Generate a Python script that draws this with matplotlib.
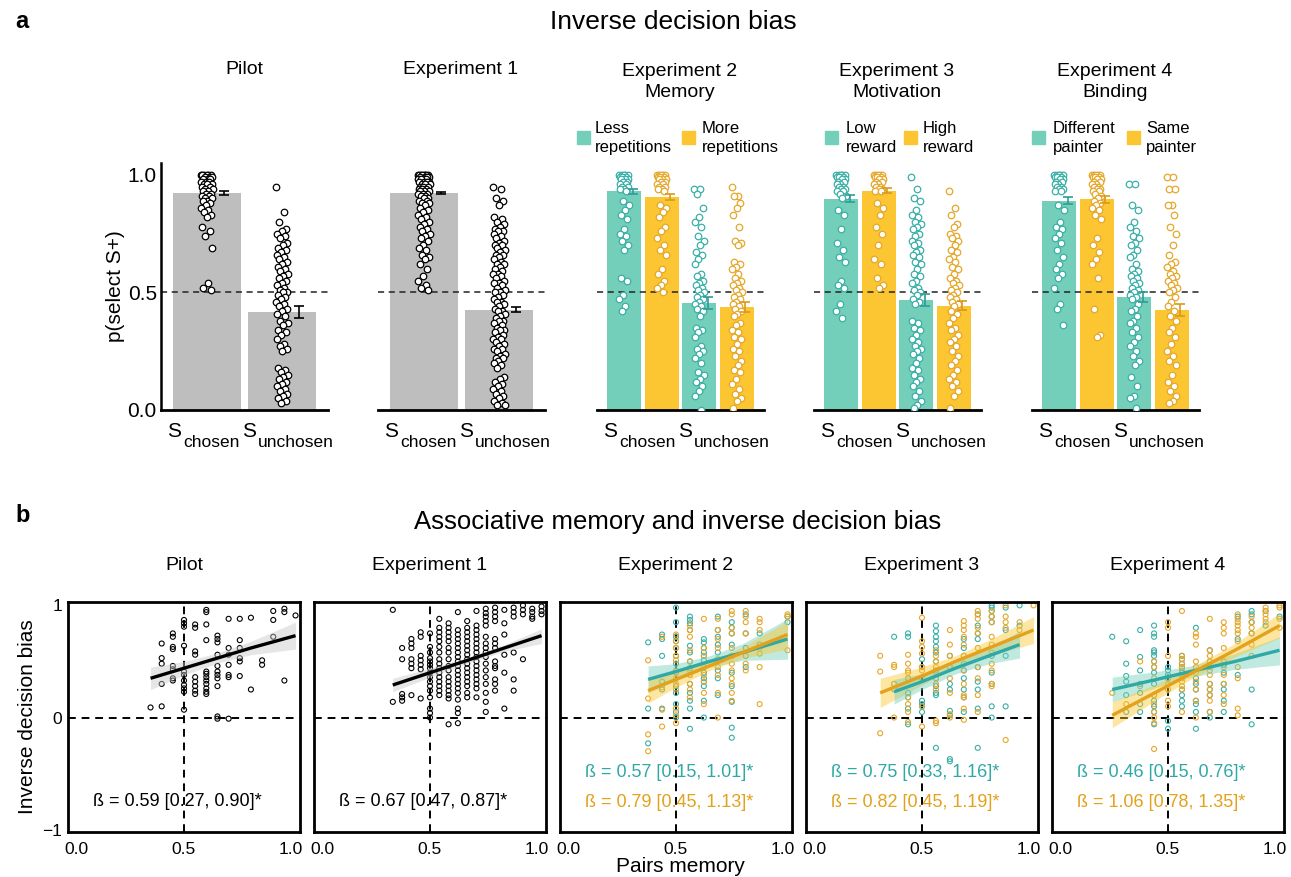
import numpy as np
import matplotlib.pyplot as plt
from matplotlib import transforms
from matplotlib.patches import Rectangle

plt.rcParams["font.family"] = ["Liberation Sans", "DejaVu Sans"]

W, H = 1291, 877

GREY = "#bebebe"
TEAL_BAR = "#74cfba"
YEL_BAR = "#fbc631"
TEAL_PT = "#3aafa8"
YEL_PT = "#e6a72a"
TEAL_ERR = "#2f9c96"
YEL_ERR = "#d99a1c"
TEAL_LN = "#2fa9a5"
ORG_LN = "#e3a11c"

# ---------------- panel a: bar means / sem ----------------
pilot_means = [0.923, 0.417]
pilot_errs = [0.007, 0.025]
exp1_means = [0.922, 0.426]
exp1_errs = [0.005, 0.010]
exp2_means = [0.929, 0.906, 0.455, 0.438]
exp2_errs = [0.010, 0.012, 0.025, 0.020]
exp3_means = [0.898, 0.933, 0.469, 0.443]
exp3_errs = [0.015, 0.010, 0.025, 0.020]
exp4_means = [0.890, 0.895, 0.480, 0.426]
exp4_errs = [0.015, 0.015, 0.020, 0.025]

# participant values, panel a
pilot_chosen = [1.0, 1.0, 1.0, 1.0, 1.0, 1.0, 0.99, 0.99, 0.99, 0.98, 0.98, 0.98, 0.97, 0.97,
                0.97, 0.96, 0.96, 0.96, 0.95, 0.95, 0.94, 0.94, 0.93, 0.93, 0.92, 0.92, 0.91,
                0.91, 0.90, 0.90, 0.89, 0.89, 0.88, 0.87, 0.86, 0.85, 0.84, 0.83, 0.82, 0.78,
                0.76, 0.74, 0.69, 0.54, 0.52, 0.51]
pilot_unchosen = [0.95, 0.84, 0.80, 0.77, 0.76, 0.75, 0.74, 0.73, 0.71, 0.70, 0.69, 0.68, 0.67,
                  0.66, 0.65, 0.64, 0.63, 0.62, 0.61, 0.60, 0.59, 0.58, 0.57, 0.56, 0.55, 0.54,
                  0.53, 0.52, 0.51, 0.50, 0.50, 0.49, 0.48, 0.47, 0.46, 0.45, 0.44, 0.43, 0.42,
                  0.41, 0.40, 0.38, 0.37, 0.36, 0.34, 0.33, 0.32, 0.30, 0.28, 0.27, 0.26, 0.25,
                  0.18, 0.17, 0.16, 0.15, 0.14, 0.13, 0.12, 0.11, 0.10, 0.09, 0.08, 0.07, 0.06,
                  0.05, 0.04, 0.03]
exp1_chosen = [1.0, 1.0, 1.0, 1.0, 1.0, 1.0, 1.0, 1.0, 0.99, 0.99, 0.99, 0.99, 0.98, 0.98, 0.98,
               0.98, 0.97, 0.97, 0.97, 0.97, 0.96, 0.96, 0.96, 0.95, 0.95, 0.95, 0.94, 0.94, 0.94,
               0.93, 0.93, 0.93, 0.92, 0.92, 0.92, 0.91, 0.91, 0.90, 0.90, 0.89, 0.89, 0.88, 0.88,
               0.87, 0.86, 0.85, 0.84, 0.83, 0.82, 0.81, 0.80, 0.79, 0.78, 0.77, 0.76, 0.75, 0.74,
               0.73, 0.72, 0.70, 0.69, 0.68, 0.66, 0.65, 0.64, 0.62, 0.60, 0.57, 0.55, 0.53, 0.52,
               0.51]
exp1_unchosen = [0.95, 0.94, 0.90, 0.89, 0.87, 0.82, 0.81, 0.80, 0.79, 0.78, 0.77, 0.76, 0.76,
                 0.75, 0.74, 0.73, 0.72, 0.71, 0.70, 0.70, 0.69, 0.68, 0.67, 0.66, 0.66, 0.65,
                 0.64, 0.63, 0.62, 0.62, 0.61, 0.60, 0.59, 0.58, 0.58, 0.57, 0.56, 0.55, 0.54,
                 0.54, 0.53, 0.52, 0.51, 0.50, 0.50, 0.49, 0.48, 0.47, 0.46, 0.46, 0.45, 0.44,
                 0.43, 0.42, 0.42, 0.41, 0.40, 0.39, 0.38, 0.38, 0.37, 0.36, 0.35, 0.34, 0.34,
                 0.33, 0.32, 0.31, 0.30, 0.30, 0.29, 0.28, 0.27, 0.26, 0.26, 0.25, 0.24, 0.23,
                 0.22, 0.22, 0.21, 0.20, 0.19, 0.18, 0.14, 0.13, 0.12, 0.11, 0.10, 0.09, 0.08,
                 0.07, 0.06, 0.05, 0.04, 0.03, 0.02, 0.02]
exp2_less_ch = [1.0, 1.0, 1.0, 1.0, 1.0, 0.99, 0.99, 0.99, 0.98, 0.98, 0.98, 0.97, 0.97, 0.96,
                0.96, 0.95, 0.95, 0.94, 0.94, 0.93, 0.89, 0.87, 0.85, 0.83, 0.81, 0.77, 0.75,
                0.74, 0.72, 0.70, 0.68, 0.56, 0.55, 0.49, 0.47, 0.44, 0.42]
exp2_more_ch = [1.0, 1.0, 1.0, 1.0, 1.0, 0.99, 0.99, 0.99, 0.98, 0.98, 0.98, 0.97, 0.97, 0.96,
                0.96, 0.95, 0.95, 0.94, 0.94, 0.93, 0.87, 0.86, 0.84, 0.82, 0.78, 0.76, 0.73,
                0.70, 0.68, 0.66, 0.60, 0.58, 0.55, 0.53, 0.52, 0.50]
exp2_less_un = [0.94, 0.94, 0.92, 0.86, 0.82, 0.80, 0.78, 0.74, 0.72, 0.70, 0.67, 0.66, 0.64,
                0.62, 0.58, 0.57, 0.55, 0.54, 0.53, 0.52, 0.51, 0.50, 0.49, 0.48, 0.47, 0.46,
                0.45, 0.44, 0.43, 0.42, 0.40, 0.35, 0.34, 0.33, 0.31, 0.27, 0.26, 0.25, 0.24,
                0.22, 0.20, 0.16, 0.15, 0.13, 0.12, 0.10, 0.08, 0.06, 0.0]
exp2_more_un = [0.95, 0.91, 0.91, 0.88, 0.86, 0.83, 0.78, 0.72, 0.71, 0.70, 0.63, 0.62, 0.61,
                0.60, 0.58, 0.56, 0.55, 0.54, 0.53, 0.52, 0.51, 0.50, 0.49, 0.48, 0.47, 0.46,
                0.45, 0.44, 0.43, 0.42, 0.41, 0.40, 0.37, 0.36, 0.34, 0.33, 0.31, 0.30, 0.28,
                0.26, 0.25, 0.23, 0.21, 0.19, 0.17, 0.16, 0.13, 0.11, 0.09, 0.07, 0.05, 0.04,
                0.01]
exp3_low_ch = [1.0, 1.0, 1.0, 1.0, 1.0, 0.99, 0.99, 0.99, 0.98, 0.98, 0.97, 0.97, 0.96, 0.96,
               0.95, 0.95, 0.94, 0.94, 0.93, 0.93, 0.92, 0.91, 0.90, 0.85, 0.83, 0.77, 0.71,
               0.68, 0.65, 0.63, 0.55, 0.53, 0.52, 0.45, 0.42, 0.39]
exp3_high_ch = [1.0, 1.0, 1.0, 1.0, 1.0, 0.99, 0.99, 0.99, 0.98, 0.98, 0.97, 0.97, 0.96, 0.96,
                0.95, 0.95, 0.94, 0.94, 0.93, 0.93, 0.88, 0.86, 0.83, 0.78, 0.75, 0.70, 0.64,
                0.62, 0.56, 0.53, 0.52]
exp3_low_un = [0.99, 0.94, 0.90, 0.89, 0.85, 0.83, 0.82, 0.80, 0.79, 0.78, 0.77, 0.75, 0.74,
               0.72, 0.71, 0.70, 0.68, 0.67, 0.66, 0.65, 0.63, 0.62, 0.60, 0.58, 0.57, 0.55,
               0.54, 0.52, 0.51, 0.50, 0.49, 0.47, 0.46, 0.45, 0.38, 0.37, 0.35, 0.34, 0.32,
               0.30, 0.29, 0.27, 0.26, 0.25, 0.24, 0.22, 0.20, 0.18, 0.17, 0.15, 0.13, 0.12,
               0.10, 0.08, 0.06, 0.04, 0.02, 0.01]
exp3_high_un = [0.93, 0.86, 0.83, 0.79, 0.78, 0.75, 0.74, 0.73, 0.72, 0.70, 0.68, 0.67, 0.65,
                0.64, 0.63, 0.61, 0.60, 0.58, 0.56, 0.55, 0.54, 0.53, 0.52, 0.51, 0.50, 0.49,
                0.48, 0.47, 0.46, 0.45, 0.44, 0.42, 0.41, 0.39, 0.37, 0.35, 0.34, 0.32, 0.30,
                0.29, 0.27, 0.25, 0.23, 0.21, 0.19, 0.17, 0.15, 0.13, 0.12, 0.10, 0.08, 0.06,
                0.01]
exp4_diff_ch = [1.0, 1.0, 1.0, 1.0, 1.0, 0.99, 0.99, 0.99, 0.98, 0.98, 0.97, 0.97, 0.96, 0.96,
                0.95, 0.95, 0.94, 0.94, 0.93, 0.93, 0.87, 0.85, 0.80, 0.78, 0.77, 0.75, 0.73,
                0.71, 0.68, 0.65, 0.62, 0.60, 0.58, 0.56, 0.52, 0.45, 0.43, 0.36]
exp4_same_ch = [1.0, 1.0, 1.0, 1.0, 1.0, 0.99, 0.99, 0.99, 0.98, 0.98, 0.97, 0.97, 0.96, 0.96,
                0.95, 0.95, 0.94, 0.94, 0.93, 0.93, 0.92, 0.91, 0.90, 0.89, 0.88, 0.87, 0.86,
                0.85, 0.83, 0.81, 0.73, 0.70, 0.67, 0.64, 0.62, 0.56, 0.43, 0.32, 0.31]
exp4_diff_un = [0.96, 0.96, 0.87, 0.85, 0.80, 0.78, 0.76, 0.74, 0.73, 0.71, 0.70, 0.68, 0.66,
                0.65, 0.62, 0.60, 0.59, 0.58, 0.57, 0.56, 0.55, 0.54, 0.53, 0.52, 0.51, 0.50,
                0.49, 0.48, 0.47, 0.45, 0.43, 0.42, 0.40, 0.38, 0.37, 0.35, 0.33, 0.31, 0.29,
                0.27, 0.25, 0.23, 0.21, 0.19, 0.14, 0.10, 0.06, 0.05, 0.01]
exp4_same_un = [0.99, 0.99, 0.94, 0.94, 0.87, 0.87, 0.83, 0.78, 0.75, 0.70, 0.66, 0.63, 0.62,
                0.61, 0.59, 0.58, 0.57, 0.56, 0.55, 0.54, 0.53, 0.52, 0.51, 0.50, 0.48, 0.46,
                0.44, 0.42, 0.40, 0.38, 0.35, 0.33, 0.31, 0.28, 0.25, 0.23, 0.21, 0.19, 0.15,
                0.12, 0.10, 0.08, 0.06, 0.04, 0.03]

a_titles = ["Pilot", "Experiment 1", "Experiment 2\nMemory", "Experiment 3\nMotivation",
            "Experiment 4\nBinding"]
legend_labels = [("Less\nrepetitions", "More\nrepetitions"),
                 ("Low\nreward", "High\nreward"),
                 ("Different\npainter", "Same\npainter")]

# ---------------- panel b: pairs memory vs inverse bias ----------------
# keys = number of correct pairs, divided by the number of pairs tested
pilot_n = 20
pilot_pts = {7: [0.09], 8: [0.66, 0.53, 0.48, 0.30, 0.10],
             9: [0.75, 0.72, 0.63, 0.61, 0.46, 0.43, 0.35, 0.33],
             10: [0.87, 0.84, 0.81, 0.64, 0.41, 0.38, 0.33, 0.29, 0.26, 0.23, 0.07],
             11: [0.83, 0.80, 0.59, 0.56, 0.36, 0.32, 0.28, 0.24, 0.21],
             12: [0.96, 0.94, 0.83, 0.69, 0.41, 0.39, 0.36, 0.33, 0.30, 0.26, 0.23, 0.21],
             13: [0.73, 0.70, 0.67, 0.56, 0.46, 0.41, 0.38, 0.35, 0.28, 0.01, -0.01],
             14: [0.88, 0.62, 0.56, 0.47, 0.38, 0.36, -0.01],
             15: [0.88, 0.69, 0.62, 0.53, 0.50, 0.37], 16: [0.89, 0.25], 17: [0.51, 0.47],
             18: [0.95, 0.87, 0.72], 19: [0.97, 0.94, 0.33], 20: [0.91]}
exp1_n = 24
exp1_pts = {8: [0.96, 0.14], 9: [0.62, 0.52, 0.21, 0.18, 0.15],
            10: [0.70, 0.66, 0.62, 0.52, 0.48, 0.44, 0.20],
            11: [0.76, 0.72, 0.55, 0.51, 0.47, 0.43, 0.17],
            12: [0.75, 0.63, 0.58, 0.53, 0.50, 0.47, 0.44, 0.40, 0.36, 0.32, 0.28, 0.24, 0.18,
                 0.08, 0.04, 0.0],
            13: [0.88, 0.80, 0.76, 0.72, 0.68, 0.63, 0.58, 0.52, 0.48, 0.44, 0.40, 0.36, 0.32,
                 0.28, 0.24, 0.20],
            14: [0.84, 0.80, 0.76, 0.72, 0.68, 0.62, 0.58, 0.52, 0.46, 0.42, 0.36, 0.32, 0.28,
                 0.24, 0.20, 0.17, -0.06],
            15: [0.94, 0.78, 0.74, 0.70, 0.66, 0.62, 0.58, 0.54, 0.50, 0.46, 0.42, 0.38, 0.34,
                 0.30, 0.26, 0.22, 0.16, 0.08, 0.04, -0.05],
            16: [0.86, 0.80, 0.76, 0.72, 0.68, 0.64, 0.60, 0.56, 0.52, 0.48, 0.44, 0.40, 0.36,
                 0.32, 0.28, 0.22, 0.18],
            17: [0.95, 0.82, 0.78, 0.74, 0.70, 0.66, 0.62, 0.58, 0.54, 0.50, 0.46, 0.42, 0.38,
                 0.34, 0.30, 0.26, 0.18],
            18: [0.97, 0.93, 0.90, 0.86, 0.82, 0.72, 0.66, 0.62, 0.58, 0.54, 0.48, 0.42, 0.36,
                 0.30, 0.22, 0.14, 0.05],
            19: [0.98, 0.94, 0.90, 0.86, 0.70, 0.66, 0.62, 0.50, 0.46, 0.44, 0.34, 0.30, 0.24],
            20: [0.96, 0.84, 0.74, 0.56, 0.40, 0.08], 21: [0.98, 0.94, 0.90, 0.58, 0.34, 0.24],
            22: [1.0, 0.96, 0.92, 0.52], 23: [0.97, 0.94, 0.90, 0.88], 24: [0.99, 0.95, 0.92]}
exp_n = 16
exp2_teal = {6: [0.67, 0.08, -0.23], 7: [0.74, 0.70, 0.55, 0.32, 0.25, 0.08],
             8: [0.98, 0.85, 0.72, 0.68, 0.62, 0.55, 0.48, 0.40, 0.28, 0.22, 0.12, 0.05, 0.0],
             9: [0.90, 0.87, 0.84, 0.78, 0.64, 0.58, 0.50, 0.44, 0.38, 0.30, 0.22, 0.15, 0.08,
                 -0.10],
             10: [0.70, 0.67, 0.62, 0.58, 0.55, 0.51, 0.45, 0.40, 0.35, 0.32, 0.28, 0.15, 0.0],
             11: [0.90, 0.78, 0.72, 0.65, 0.58, 0.42, 0.35, 0.20],
             12: [0.85, 0.80, 0.75, 0.65, 0.55, 0.40, 0.28, 0.14, -0.09, -0.18],
             13: [0.92, 0.75, 0.62, 0.55, 0.45], 14: [0.75, 0.65], 16: [0.90, 0.85]}
exp2_orange = {6: [0.51, 0.17, -0.15, -0.30], 7: [0.72, 0.27, 0.07, -0.08],
               8: [0.74, 0.68, 0.62, 0.55, 0.51, 0.42, 0.35, 0.30, 0.25, 0.08, 0.02, -0.05],
               9: [0.82, 0.78, 0.72, 0.60, 0.50, 0.42, 0.38, 0.30, 0.25, 0.18],
               10: [0.88, 0.62, 0.55, 0.45, 0.38, 0.32, 0.22, 0.12],
               11: [0.88, 0.78, 0.70, 0.62, 0.52, 0.45, 0.38, 0.22, 0.0],
               12: [0.95, 0.92, 0.80, 0.75, 0.62, 0.55, 0.48, 0.42, 0.35, 0.30, 0.22, 0.15],
               13: [0.95, 0.90, 0.85, 0.75, 0.48, 0.42],
               14: [0.88, 0.85, 0.78, 0.62, 0.57, 0.45, 0.12], 16: [0.92, 0.90, 0.60]}
exp3_teal = {6: [0.72, 0.30, 0.25], 7: [0.75, 0.72, 0.35, 0.22, 0.18, 0.08, -0.06],
             8: [0.52, 0.45, 0.35, 0.15, 0.12, 0.10, 0.05],
             9: [0.82, 0.77, 0.72, 0.68, 0.63, 0.58, 0.50, 0.42, 0.35, 0.28, 0.22, 0.20, -0.27],
             10: [0.55, 0.45, 0.30, 0.25, 0.06, 0.02, -0.37, -0.39],
             11: [0.70, 0.62, 0.55, 0.48, 0.42, 0.35, 0.25, 0.18, 0.05],
             12: [0.92, 0.82, 0.75, 0.70, 0.45, 0.32, 0.25, 0.08, -0.27],
             13: [1.0, 0.98, 0.95, 0.90, 0.85, 0.55, 0.40, 0.30, 0.10, 0.0],
             14: [0.98, 0.78, 0.55, 0.10], 15: [1.0, 0.82]}
exp3_orange = {5: [0.55, 0.41, -0.14], 6: [0.47, 0.45, 0.30, 0.0],
               7: [0.56, 0.48, 0.42, 0.40, 0.35, 0.18, 0.12, 0.05, -0.04],
               8: [0.89, 0.68, 0.63, 0.57, 0.45, 0.42, 0.35, 0.10, -0.08],
               9: [0.60, 0.55, 0.50, 0.45, 0.40, 0.35, 0.30, 0.25, -0.03, -0.05],
               10: [0.78, 0.65, 0.55, 0.45, 0.35, 0.22, 0.03, 0.0],
               11: [0.86, 0.82, 0.78, 0.72, 0.65, 0.55, 0.42, 0.30, 0.20, 0.18, 0.08, -0.02],
               12: [0.95, 0.92, 0.88, 0.80, 0.75, 0.62, 0.45, 0.35, 0.20, 0.05],
               13: [0.95, 0.90, 0.85, 0.72, 0.65, 0.58, 0.48, 0.42, 0.30, 0.28],
               14: [1.0, 0.90, 0.85, 0.80, -0.20], 15: [0.85, 0.78], 16: [1.0]}
exp4_teal = {4: [0.72], 5: [0.68, 0.48, 0.37, 0.32, 0.20, 0.05],
             6: [0.78, 0.54, 0.42, 0.30, 0.22, 0.12, 0.05],
             7: [0.82, 0.75, 0.72, 0.60, 0.58, 0.55, 0.50, 0.45, 0.40, 0.30, 0.20, 0.15, 0.10,
                 0.05, -0.06],
             8: [0.45, 0.42, 0.38, 0.35, -0.03, -0.10],
             9: [0.55, 0.52, 0.48, 0.45, 0.40, 0.25, 0.20, 0.15, 0.10],
             10: [0.80, 0.35, 0.30, 0.25, 0.15, 0.12, 0.05, -0.10],
             11: [0.60, 0.50, 0.45, 0.30, 0.25, 0.20, 0.05, 0.0],
             12: [0.50, 0.47, 0.40, 0.30, 0.25, 0.15, 0.05], 13: [0.90, 0.70, 0.38],
             14: [0.95, 0.92, 0.85, 0.75, 0.25, -0.06], 15: [0.95, 0.82], 16: [0.90]}
exp4_orange = {4: [0.22], 5: [0.12], 6: [0.50, 0.28],
               7: [0.50, 0.45, 0.35, 0.20, 0.12, 0.05, 0.0, -0.05, -0.28],
               8: [0.85, 0.80, 0.55, 0.30, 0.25, 0.15, 0.10],
               9: [0.95, 0.55, 0.52, 0.48, 0.45, 0.42, 0.38, 0.35, 0.32, 0.28, 0.25, 0.05],
               10: [0.75, 0.72, 0.65, 0.50, 0.45, 0.40, 0.32, 0.25, 0.15, 0.0],
               11: [0.88, 0.60, 0.55, 0.50, 0.42, 0.38, 0.30, 0.25, 0.20, 0.15, 0.05],
               12: [0.85, 0.80, 0.75, 0.62, 0.50, 0.45, 0.38, 0.30, 0.20, 0.12],
               13: [0.92, 0.88, 0.85, 0.82, 0.78, 0.75, 0.68, 0.45, 0.35, 0.08, 0.02],
               14: [0.90, 0.85, 0.80, 0.75, 0.65, 0.55], 15: [0.98, 0.95, 0.92, 0.88, 0.85],
               16: [1.0, 0.98, 0.88, 0.80]}

# regression fits: x, fit, lower CI, upper CI
pilot_fit = ([0.35, 0.5, 0.65, 0.8, 1.0], [0.35, 0.44, 0.53, 0.62, 0.73],
             [0.25, 0.38, 0.485, 0.56, 0.61], [0.45, 0.50, 0.575, 0.68, 0.85])
exp1_fit = ([0.333, 0.5, 0.667, 0.833, 1.0], [0.29, 0.40, 0.51, 0.62, 0.73],
            [0.23, 0.36, 0.485, 0.59, 0.66], [0.35, 0.44, 0.535, 0.65, 0.79])
exp2_teal_fit = ([0.375, 0.5, 0.65, 0.8, 1.0], [0.34, 0.41, 0.50, 0.58, 0.70],
                 [0.22, 0.33, 0.45, 0.51, 0.52], [0.46, 0.48, 0.55, 0.66, 0.88])
exp2_orange_fit = ([0.375, 0.5, 0.65, 0.8, 1.0], [0.24, 0.34, 0.46, 0.58, 0.74],
                   [0.13, 0.27, 0.42, 0.53, 0.61], [0.35, 0.41, 0.50, 0.63, 0.86])
exp3_teal_fit = ([0.375, 0.5, 0.65, 0.8, 0.9375], [0.23, 0.32, 0.44, 0.55, 0.65],
                 [0.12, 0.25, 0.39, 0.48, 0.53], [0.34, 0.39, 0.49, 0.62, 0.77])
exp3_orange_fit = ([0.3125, 0.5, 0.65, 0.8, 1.0], [0.22, 0.37, 0.50, 0.62, 0.78],
                   [0.09, 0.29, 0.45, 0.55, 0.66], [0.35, 0.45, 0.55, 0.69, 0.90])
exp4_teal_fit = ([0.25, 0.45, 0.6, 0.8, 1.0], [0.25, 0.34, 0.41, 0.50, 0.60],
                 [0.14, 0.27, 0.36, 0.43, 0.47], [0.36, 0.41, 0.46, 0.57, 0.72])
exp4_orange_fit = ([0.25, 0.45, 0.6, 0.8, 1.0], [0.02, 0.23, 0.39, 0.60, 0.82],
                   [-0.09, 0.16, 0.34, 0.54, 0.71], [0.14, 0.30, 0.44, 0.66, 0.93])

b_titles = ["Pilot", "Experiment 1", "Experiment 2", "Experiment 3", "Experiment 4"]
pilot_beta = ["ß = 0.59 [0.27, 0.90]*"]
exp1_beta = ["ß = 0.67 [0.47, 0.87]*"]
exp2_beta = ["ß = 0.57 [0.15, 1.01]*", "ß = 0.79 [0.45, 1.13]*"]
exp3_beta = ["ß = 0.75 [0.33, 1.16]*", "ß = 0.82 [0.45, 1.19]*"]
exp4_beta = ["ß = 0.46 [0.15, 0.76]*", "ß = 1.06 [0.78, 1.35]*"]

fig = plt.figure(figsize=(W / 100, H / 100), dpi=100)


def pax(left, top, right, bottom):
    return fig.add_axes([left / W, 1 - bottom / H, (right - left) / W, (bottom - top) / H])


def ftext(x, y, s, **kw):
    return fig.text(x / W, 1 - y / H, s, **kw)


def jitter(n, spread):
    # deterministic horizontal spread of the strip points
    return ((np.arange(n) * 0.618034) % 1 - 0.5) * 2 * spread


def expand(cols, n):
    xs, ys = [], []
    for k, vals in cols.items():
        xs += [k / n] * len(vals)
        ys += vals
    return np.array(xs), np.array(ys)


# ---------------- panel a ----------------
a_left = [161, 378, 597, 814, 1032]
two_x = [0, 1]
four_x = [-0.25, 0.25, 0.75, 1.25]
a_specs = [
    (two_x, 0.9, pilot_means, pilot_errs, [pilot_chosen, pilot_unchosen], [GREY] * 2, ["k"] * 2, ["k"] * 2),
    (two_x, 0.9, exp1_means, exp1_errs, [exp1_chosen, exp1_unchosen], [GREY] * 2, ["k"] * 2, ["k"] * 2),
    (four_x, 0.45, exp2_means, exp2_errs, [exp2_less_ch, exp2_more_ch, exp2_less_un, exp2_more_un],
     [TEAL_BAR, YEL_BAR] * 2, [TEAL_PT, YEL_PT] * 2, [TEAL_ERR, YEL_ERR] * 2),
    (four_x, 0.45, exp3_means, exp3_errs, [exp3_low_ch, exp3_high_ch, exp3_low_un, exp3_high_un],
     [TEAL_BAR, YEL_BAR] * 2, [TEAL_PT, YEL_PT] * 2, [TEAL_ERR, YEL_ERR] * 2),
    (four_x, 0.45, exp4_means, exp4_errs, [exp4_diff_ch, exp4_same_ch, exp4_diff_un, exp4_same_un],
     [TEAL_BAR, YEL_BAR] * 2, [TEAL_PT, YEL_PT] * 2, [TEAL_ERR, YEL_ERR] * 2),
]

for i, (xs, w, means, errs, strips, bcols, pcols, ecols) in enumerate(a_specs):
    ax = pax(a_left[i], 163, a_left[i] + 167, 410)
    ax.bar(xs, means, width=w, color=bcols, zorder=1)
    spread = 0.08 if w > 0.5 else 0.065
    for x, vals, ec in zip(xs, strips, pcols):
        ax.scatter(x + jitter(len(vals), spread), vals, s=22, facecolor="white",
                   edgecolor=ec, linewidth=0.9, zorder=3)
    for x, m, e, c in zip(xs, means, errs, ecols):
        ax.errorbar(x + w * 0.25, m, yerr=e, color=c, capsize=3.5, lw=1.2,
                    capthick=1.2, zorder=4)
    ax.axhline(0.5, color="#222222", ls=(0, (4, 3)), lw=1.1, zorder=2)
    ax.set_xlim(-0.61, 1.61)
    ax.set_ylim(0, 1.05)
    ax.set_xticks([])
    for s in ["top", "right"]:
        ax.spines[s].set_visible(False)
    ax.spines["bottom"].set_linewidth(2)
    if i == 0:
        ax.spines["left"].set_linewidth(1.8)
        ax.set_yticks([0, 0.5, 1.0], ["0.0", "0.5", "1.0"])
        ax.tick_params(axis="y", length=0, pad=3, labelsize=15)
        ax.set_ylabel("p(select S+)", fontsize=15, labelpad=2)
    else:
        ax.spines["left"].set_visible(False)
        ax.set_yticks([])
    tr = transforms.blended_transform_factory(ax.transData, ax.transAxes)
    for x, sub in zip(two_x, ["chosen", "unchosen"]):
        ax.text(x, 0, "S", fontsize=15, ha="right", va="baseline",
                transform=transforms.offset_copy(tr, fig=fig, x=-26, y=-27, units="dots"))
        ax.text(x, 0, sub, fontsize=12.5, ha="left", va="baseline",
                transform=transforms.offset_copy(tr, fig=fig, x=-24, y=-37, units="dots"))
    if "\n" in a_titles[i]:
        ftext(a_left[i] + 83, 82, a_titles[i], ha="center", va="center", fontsize=14,
              linespacing=1.25)
    else:
        ftext(a_left[i] + 83, 70, a_titles[i], ha="center", va="center", fontsize=14)

# legends above the coloured panels
leg_pos = [(577, 595, 682, 702), (825, 846, 904, 923), (1032, 1053, 1127, 1146)]
for (s1, t1, s2, t2), (lab1, lab2) in zip(leg_pos, legend_labels):
    for sx, tx, lab, col in [(s1, t1, lab1, TEAL_BAR), (s2, t2, lab2, YEL_BAR)]:
        fig.add_artist(Rectangle((sx / W, 1 - 144 / H), 13 / W, 13 / H, color=col,
                                 transform=fig.transFigure))
        ftext(tx, 138, lab, ha="left", va="center", fontsize=12, linespacing=1.3)

ftext(15, 22, "a", fontsize=17, fontweight="bold", va="center")
ftext(673, 22, "Inverse decision bias", fontsize=19, ha="center", va="center")

# ---------------- panel b ----------------
b_left = [68, 314, 560, 806, 1052]
b_specs = [
    ([(expand(pilot_pts, pilot_n), "k")], [(pilot_fit, "k", "#c8c8c8")], pilot_beta, ["k"]),
    ([(expand(exp1_pts, exp1_n), "k")], [(exp1_fit, "k", "#c8c8c8")], exp1_beta, ["k"]),
    ([(expand(exp2_teal, exp_n), TEAL_PT), (expand(exp2_orange, exp_n), YEL_PT)],
     [(exp2_teal_fit, TEAL_LN, TEAL_BAR), (exp2_orange_fit, ORG_LN, YEL_BAR)],
     exp2_beta, [TEAL_LN, ORG_LN]),
    ([(expand(exp3_teal, exp_n), TEAL_PT), (expand(exp3_orange, exp_n), YEL_PT)],
     [(exp3_orange_fit, ORG_LN, YEL_BAR), (exp3_teal_fit, TEAL_LN, TEAL_BAR)],
     exp3_beta, [TEAL_LN, ORG_LN]),
    ([(expand(exp4_teal, exp_n), TEAL_PT), (expand(exp4_orange, exp_n), YEL_PT)],
     [(exp4_teal_fit, TEAL_LN, TEAL_BAR), (exp4_orange_fit, ORG_LN, YEL_BAR)],
     exp4_beta, [TEAL_LN, ORG_LN]),
]

for i, (groups, fits, betas, bcols) in enumerate(b_specs):
    ax = pax(b_left[i], 602, b_left[i] + 232, 832)
    ax.axhline(0, color="k", ls=(0, (4, 3)), lw=1.4, zorder=1)
    ax.axvline(0.5, color="k", ls=(0, (4, 3)), lw=1.4, zorder=1)
    for (xs, ys), col in groups:
        ax.scatter(xs, ys, s=13, facecolor="none", edgecolor=col, linewidth=0.8, zorder=2)
    for (fx, fy, lo, hi), lc, bc in fits:
        ax.fill_between(fx, lo, hi, color=bc, alpha=0.45, lw=0, zorder=3)
        ax.plot(fx, fy, color=lc, lw=2.4, zorder=4, solid_capstyle="butt")
    for j, (txt, c) in enumerate(zip(betas, bcols)):
        y = -0.75 if len(betas) == 1 else [-0.49, -0.76][j]
        ax.text(0.09, y, txt, color=c, fontsize=13, va="center", ha="left", zorder=5)
    ax.set_xlim(-0.02, 1.02)
    ax.set_ylim(-1.02, 1.03)
    for s in ax.spines.values():
        s.set_linewidth(2)
    ax.set_xticks([0, 0.5, 1.0], ["0.0", "0.5", "1.0"])
    ax.tick_params(length=0, labelsize=12.5, pad=7)
    # nudge end labels inward so neighbouring panels' labels sit side by side
    xl = ax.get_xticklabels()
    for lab, dx in [(xl[0], 4), (xl[2], -5)]:
        lab.set_transform(lab.get_transform()
                          + transforms.ScaledTranslation(dx / 100, 0, fig.dpi_scale_trans))
    if i == 0:
        ax.set_yticks([-1, 0, 1], ["\u22121", "0", "1"])
        ax.tick_params(axis="y", pad=4)
        ax.set_ylabel("Inverse decision bias", fontsize=15, labelpad=4)
    else:
        ax.set_yticks([])
    ftext(b_left[i] + 116, 565, b_titles[i], ha="center", va="center", fontsize=14)

ftext(680, 866, "Pairs memory", fontsize=15, ha="center", va="center")
ftext(15, 515, "b", fontsize=17, fontweight="bold", va="center")
ftext(678, 522, "Associative memory and inverse decision bias", fontsize=18.5,
      ha="center", va="center")

fig.savefig("out.png", dpi=100)
